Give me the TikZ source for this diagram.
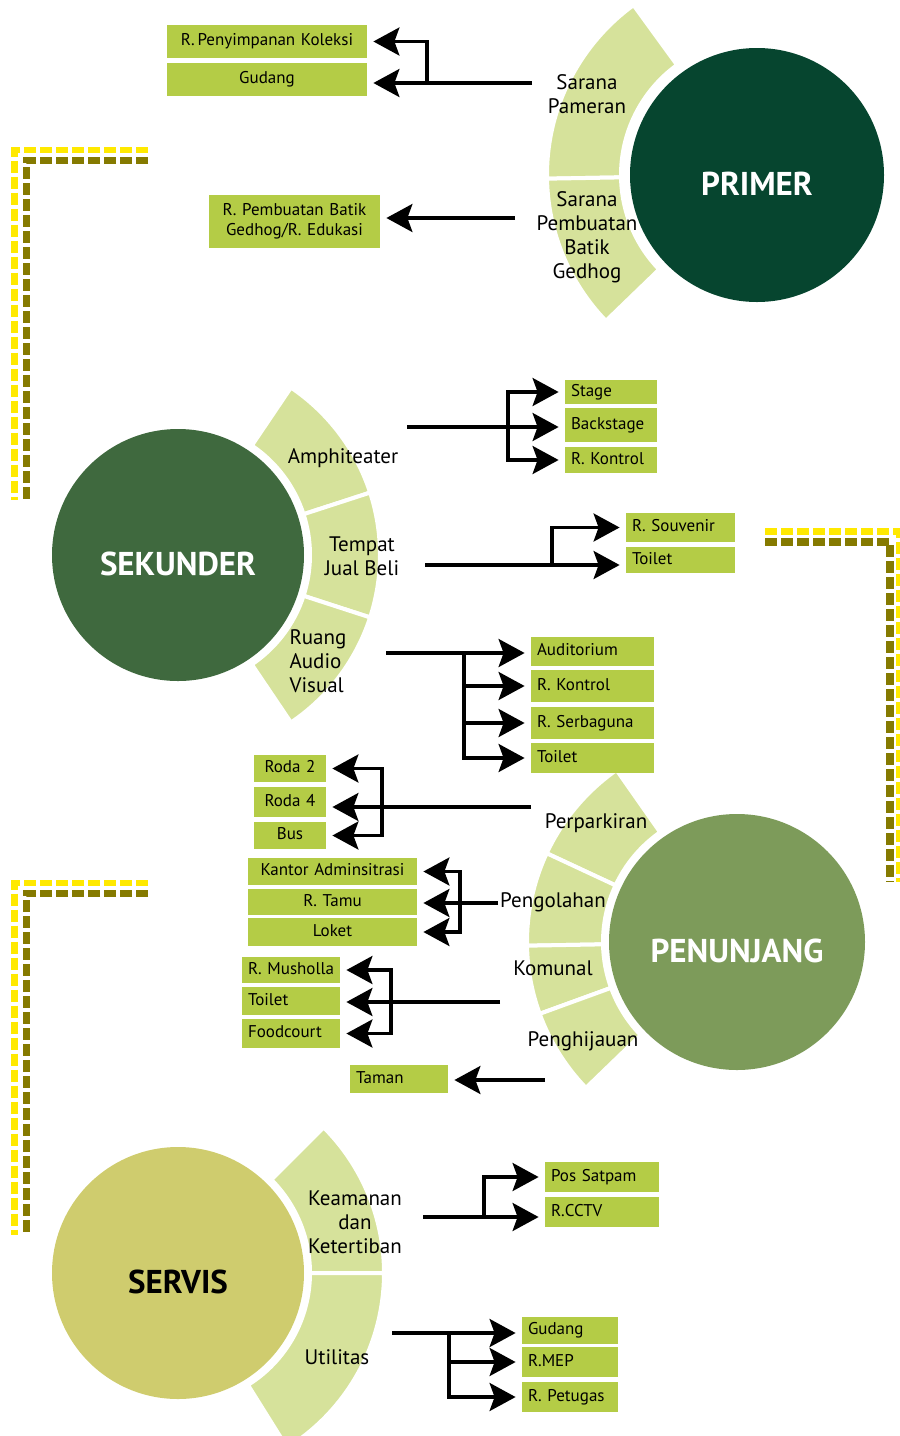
\documentclass[tikz,border=0pt]{standalone}
\usepackage{fontspec}
\setmainfont{PT Sans}
\usepackage{xcolor}
\usepackage{tikz}
\usetikzlibrary{positioning,arrows.meta,calc}

\definecolor{primergreen}{HTML}{06452F}
\definecolor{sekundergreen}{HTML}{3F693E}
\definecolor{penunjanggreen}{HTML}{7D9B5A}
\definecolor{servisgreen}{HTML}{CFCC6E}
\definecolor{ringgreen}{HTML}{D6E29B}
\definecolor{boxgreen}{HTML}{B4CC46}
\definecolor{dashyellow}{HTML}{FFE900}
\definecolor{dasholive}{HTML}{857A00}

% one light part of the ring round a hub: hub, from, to, inner, outer
\newcommand{\ringpart}[5]{%
  \path[rim] ($(#1)+(#2:#5)$) arc[start angle=#2,end angle=#3,radius=#5]
    -- ($(#1)+(#3:#4)$) arc[start angle=#3,end angle=#2,radius=#4] -- cycle;}

\begin{document}
\begin{tikzpicture}[x=0.5pt,y=0.5pt,
                    every node/.style={font=\fontsize{8.5}{10}\selectfont},
                    box/.style={fill=boxgreen,inner xsep=3pt,inner ysep=0pt,
                                text height=6.2pt,text depth=1.8pt},
                    hub/.style={circle,inner sep=0pt,text=white,text height=20pt,text depth=0pt,
                                font=\fontsize{16.5}{18}\selectfont\bfseries},
                    part/.style={font=\fontsize{10.5}{12}\selectfont,align=center},
                    rim/.style={fill=ringgreen,draw=white,line width=2pt},
                    arr/.style={line width=1.65pt,shorten >=3pt,
                                -{Stealth[length=13pt,width=14pt,inset=2.5pt]}},
                    ybar/.style={draw=dashyellow,line width=3.2pt,dash pattern=on 6pt off 2pt},
                    obar/.style={draw=dasholive,line width=3.6pt,dash pattern=on 6pt off 2pt}]
  \useasboundingbox (0,0) rectangle (900,-1436);
  \clip (0,0) rectangle (900,-1436);

  % dashed corner frames
  \draw[ybar] (148,-150) -- (14.5,-150) -- (14.5,-500);
  \draw[obar] (148,-160.5) -- (26.5,-160.5) -- (26.5,-500);
  \draw[ybar] (765,-531.5) -- (899,-531.5) -- (899,-882);
  \draw[obar] (765,-542) -- (890,-542) -- (890,-882);
  \draw[ybar] (148,-883) -- (14.5,-883) -- (14.5,-1235);
  \draw[obar] (148,-893.5) -- (26.5,-893.5) -- (26.5,-1235);

  % hubs
  \node[hub,fill=primergreen,minimum size=127pt]    (primer)    at (757,-175)  {PRIMER};
  \node[hub,fill=sekundergreen,minimum size=126pt]  (sekunder)  at (178,-555)  {SEKUNDER};
  \node[hub,fill=penunjanggreen,minimum size=128pt] (penunjang) at (737,-942)  {PENUNJANG};
  \node[hub,fill=servisgreen,text=black,minimum size=126pt] (servis) at (178,-1273) {SERVIS};

  % rings
  \ringpart{primer}{126}{181}{136}{210}
  \ringpart{primer}{181}{224}{136}{210}
  \ringpart{sekunder}{18}{56}{132}{202}
  \ringpart{sekunder}{-18}{18}{132}{202}
  \ringpart{sekunder}{-56}{-18}{132}{202}
  \ringpart{penunjang}{125}{155}{134}{210}
  \ringpart{penunjang}{155}{181}{134}{210}
  \ringpart{penunjang}{181}{200}{134}{210}
  \ringpart{penunjang}{200}{224}{134}{210}
  \ringpart{servis}{0}{45}{132}{206}
  \ringpart{servis}{-58}{0}{132}{206}

  \node[part] (pameran)   at (587,-94)   {Sarana\\Pameran};
  \node[part] (pembuatan) at (587,-237)  {Sarana\\Pembuatan\\Batik\\Gedhog};
  \node[part] (amphi)     at (343,-458)  {Amphiteater};
  \node[part] (jualbeli)  at (362,-556)  {Tempat\\Jual Beli};
  \node[part,align=left] (audio) at (318,-661) {Ruang\\Audio\\Visual};
  \node[part] (parkir)    at (596,-823)  {Perparkiran};
  \node[part] (olah)      at (553,-902)  {Pengolahan};
  \node[part] (komunal)   at (553,-968)  {Komunal};
  \node[part] (hijau)     at (583,-1041) {Penghijauan};
  \node[part] (aman)      at (355,-1222) {Keamanan\\dan\\Ketertiban};
  \node[part] (utilitas)  at (337,-1357) {Utilitas};

  % primer rooms
  \node[box,text width=94pt,align=center,minimum height=16.5pt] (koleksi) at (267,-41.5) {R.\,Penyimpanan Koleksi};
  \node[box,text width=94pt,align=center,minimum height=16.5pt] (gudang)  at (267,-79.5) {Gudang};
  \node[box,text width=79.5pt,align=center,minimum height=26.5pt,text height=,text depth=] (batik) at (294.5,-221.5)
       {R.\ Pembuatan Batik\\Gedhog/R.\ Edukasi};

  \coordinate (s1) at (532,-83);  \coordinate (j1) at (427,-83);
  \draw[arr] (s1) -- (gudang.east |- s1);
  \draw[arr] (j1) |- (koleksi);
  \coordinate (s2) at (515,-218);
  \draw[arr] (s2) -- (batik.east |- s2);

  % sekunder rooms
  \node[box,text width=40pt,align=left,minimum height=12pt] (stage)     at (611,-392) {Stage};
  \node[box,text width=40pt,align=left,minimum height=17pt] (backstage) at (611,-425) {Backstage};
  \node[box,text width=40pt,align=left,minimum height=13pt] (kontrol)   at (611,-460) {R.\ Kontrol};

  \coordinate (s3) at (407,-427);  \coordinate (j3) at (508,-427);
  \draw[arr] (s3) -- (backstage.west |- s3);
  \draw[arr] (j3) |- (stage);
  \draw[arr] (j3) |- (kontrol);

  \node[box,text width=48.5pt,align=left,minimum height=14.5pt] (souvenir) at (680.5,-527.5) {R.\ Souvenir};
  \node[box,text width=48.5pt,align=left,minimum height=13pt]   (toiletjb) at (680.5,-560)   {Toilet};

  \coordinate (s4) at (425,-565);  \coordinate (j4) at (552,-565);
  \draw[arr] (s4) -- (toiletjb.west |- s4);
  \draw[arr] (j4) |- (souvenir);

  \node[box,text width=55.5pt,align=left,minimum height=14.5pt] (auditorium) at (592.5,-651.5) {Auditorium};
  \node[box,text width=55.5pt,align=left,minimum height=16pt]   (kontrolav)  at (592.5,-686)   {R.\ Kontrol};
  \node[box,text width=55.5pt,align=left,minimum height=16pt]   (serbaguna)  at (592.5,-723)   {R.\ Serbaguna};
  \node[box,text width=55.5pt,align=left,minimum height=15pt]   (toiletav)   at (592.5,-758)   {Toilet};

  \coordinate (s5) at (386,-653);  \coordinate (j5) at (464,-653);
  \draw[arr] (s5) -- (auditorium.west |- s5);
  \draw[arr] (j5) |- (kontrolav);
  \draw[arr] (j5) |- (serbaguna);
  \draw[arr] (j5) |- (toiletav);

  % penunjang rooms
  \node[box,text width=30pt,align=center,minimum height=13.5pt] (roda2) at (290,-768.5) {Roda 2};
  \node[box,text width=30pt,align=center,minimum height=15pt]   (roda4) at (290,-802)   {Roda 4};
  \node[box,text width=30pt,align=center,minimum height=13.5pt] (bus)   at (290,-835.5) {Bus};

  \coordinate (s6) at (531,-807);  \coordinate (j6) at (382,-807);
  \draw[arr] (s6) -- (roda4.east |- s6);
  \draw[arr] (j6) |- (roda2);
  \draw[arr] (j6) |- (bus);

  \node[box,text width=78.5pt,align=center,minimum height=13.5pt] (kantor) at (332.5,-871.5) {Kantor Adminsitrasi};
  \node[box,text width=78.5pt,align=center,minimum height=13pt]   (tamu)   at (332.5,-902)   {R.\ Tamu};
  \node[box,text width=78.5pt,align=center,minimum height=14pt]   (loket)  at (332.5,-932)   {Loket};

  \coordinate (s7) at (498,-903);  \coordinate (j7) at (460,-903);
  \draw[arr] (s7) -- (tamu.east |- s7);
  \draw[arr] (j7) |- (kantor);
  \draw[arr] (j7) |- (loket);

  \node[box,text width=43pt,align=left,minimum height=13pt]   (musholla)  at (291,-970)    {R.\ Musholla};
  \node[box,text width=43pt,align=left,minimum height=14pt]   (toiletkm)  at (291,-1001)   {Toilet};
  \node[box,text width=43pt,align=left,minimum height=14.5pt] (foodcourt) at (291,-1033.5) {Foodcourt};

  \coordinate (s8) at (500,-1002);  \coordinate (j8) at (391,-1002);
  \draw[arr] (s8) -- (toiletkm.east |- s8);
  \draw[arr] (j8) |- (musholla);
  \draw[arr] (j8) |- (foodcourt);

  \node[box,text width=43pt,align=left,minimum height=14pt] (taman) at (399,-1079) {Taman};
  \coordinate (s9) at (545,-1080);
  \draw[arr] (s9) -- (taman.east |- s9);

  % servis rooms
  \node[box,text width=51pt,align=left,minimum height=15pt] (satpam) at (602,-1177) {Pos Satpam};
  \node[box,text width=51pt,align=left,minimum height=15pt] (cctv)   at (602,-1212) {R.CCTV};

  \coordinate (s10) at (423,-1217);  \coordinate (j10) at (484,-1217);
  \draw[arr] (s10) -- (cctv.west |- s10);
  \draw[arr] (j10) |- (satpam);

  \node[box,text width=42pt,align=left,minimum height=13.5pt] (gudangut) at (570,-1330.5) {Gudang};
  \node[box,text width=42pt,align=left,minimum height=15pt]   (mep)      at (570,-1362)   {R.MEP};
  \node[box,text width=42pt,align=left,minimum height=15pt]   (petugas)  at (570,-1397)   {R.\ Petugas};

  \coordinate (s11) at (392,-1333);  \coordinate (j11) at (449,-1333);
  \draw[arr] (s11) -- (gudangut.west |- s11);
  \draw[arr] (j11) |- (mep);
  \draw[arr] (j11) |- (petugas);
\end{tikzpicture}
\end{document}
